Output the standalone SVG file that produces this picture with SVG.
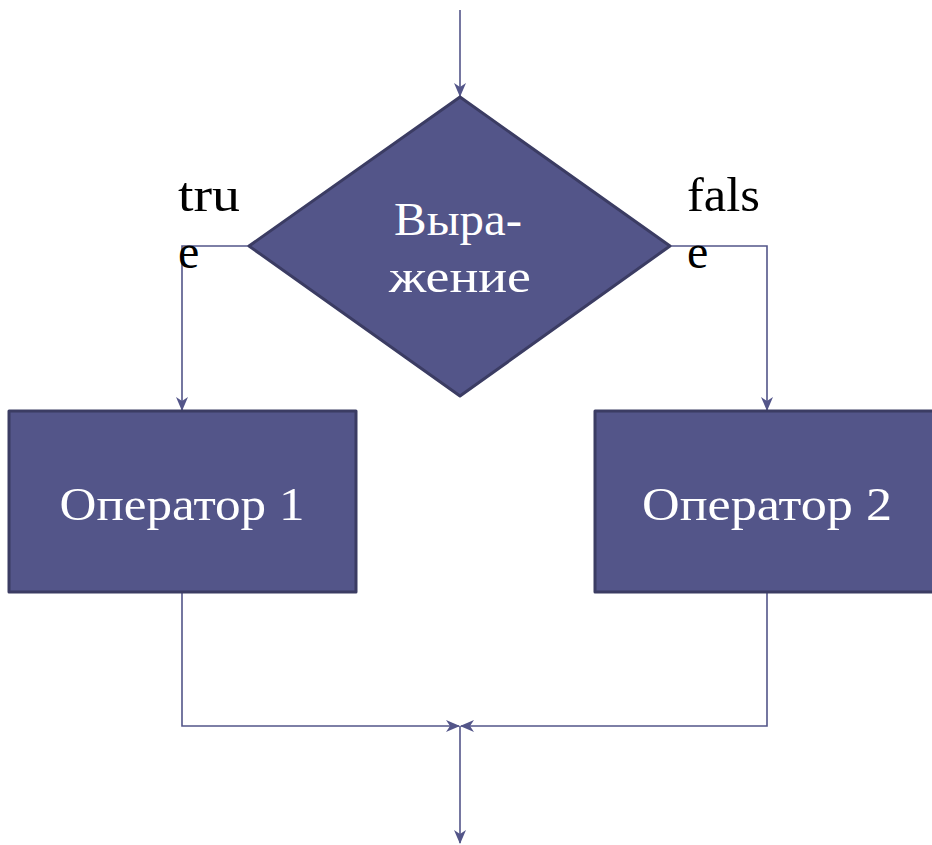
<svg xmlns="http://www.w3.org/2000/svg" width="932" height="845" viewBox="0 0 932 845">
<defs>
<style>
.node{fill:#535589;stroke:#3b3c63;stroke-width:3;stroke-linejoin:round}
.ntext{fill:#ffffff;font-family:'Liberation Serif','DejaVu Serif',serif;font-size:46px;text-anchor:middle}
.lbl{fill:#000000;font-family:'Liberation Serif','DejaVu Serif',serif;font-size:48px}
.conn{fill:none;stroke:#535589;stroke-width:1.6}
</style>
<marker id="arr" markerUnits="userSpaceOnUse" markerWidth="14" markerHeight="12" viewBox="0 0 14 12" refX="13" refY="6" orient="auto">
<path d="M0,0 L14,6 L0,12 L4,6 Z" fill="#535589"/>
</marker>
</defs>
<rect width="932" height="845" fill="#ffffff"/>
<g id="connectors">
<line class="conn" x1="460" y1="10" x2="460" y2="96" marker-end="url(#arr)"/>
<polyline class="conn" points="248,246 182,246 182,410" marker-end="url(#arr)"/>
<polyline class="conn" points="671,246 767,246 767,410" marker-end="url(#arr)"/>
<polyline class="conn" points="182,593 182,726 459,726" marker-end="url(#arr)"/>
<polyline class="conn" points="767,593 767,726 461,726" marker-end="url(#arr)"/>
<line class="conn" x1="460" y1="726" x2="460" y2="843" marker-end="url(#arr)"/>
</g>
<g id="decision">
<polygon class="node" points="460,97 249,246 460,396 670,246"/>
<text class="ntext" x="458" y="235" textLength="128" lengthAdjust="spacingAndGlyphs">Выра-</text>
<text class="ntext" x="460" y="292" textLength="142" lengthAdjust="spacingAndGlyphs">жение</text>
</g>
<g id="op1">
<rect class="node" x="9" y="411" width="347" height="181"/>
<text class="ntext" x="182" y="520" textLength="245" lengthAdjust="spacingAndGlyphs">Оператор 1</text>
</g>
<g id="op2">
<rect class="node" x="595" y="411" width="345" height="181"/>
<text class="ntext" x="767" y="520" textLength="250" lengthAdjust="spacingAndGlyphs">Оператор 2</text>
</g>
<g id="labels">
<text class="lbl" x="178" y="211" textLength="62" lengthAdjust="spacingAndGlyphs">tru</text>
<text class="lbl" x="178" y="268">e</text>
<text class="lbl" x="687" y="211" textLength="73" lengthAdjust="spacingAndGlyphs">fals</text>
<text class="lbl" x="687" y="268">e</text>
</g>
</svg>
